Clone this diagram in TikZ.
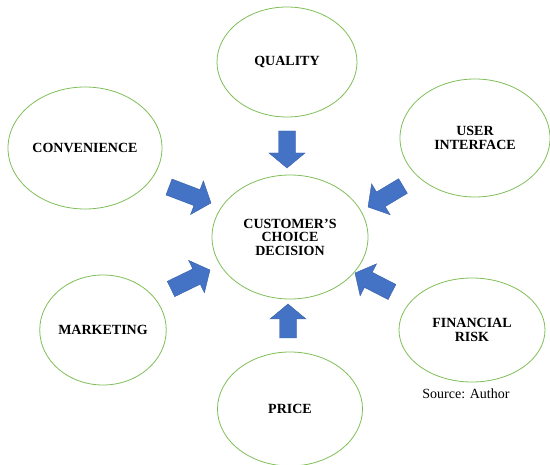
\documentclass[tikz,border=0pt]{standalone}
\usepackage{fontspec}
\setmainfont{Liberation Serif}
\usetikzlibrary{shapes.geometric,calc}

\definecolor{ringgreen}{RGB}{128,190,88}
\definecolor{arrowblue}{RGB}{68,114,196}
\definecolor{arrowedge}{RGB}{55,95,170}

% block arrow from a tail coordinate to a tip coordinate
\newcommand\blockarrow[2]{%
  \coordinate (hb) at ($(#2)!15pt!(#1)$);
  \filldraw[fill=arrowblue, draw=arrowedge, line width=0.4pt, line join=miter]
    ($(#1)!8.5pt!90:(#2)$) -- ($(hb)!8.5pt!90:(#2)$) -- ($(hb)!18pt!90:(#2)$)
    -- (#2) -- ($(hb)!18pt!-90:(#2)$) -- ($(hb)!8.5pt!-90:(#2)$)
    -- ($(#1)!8.5pt!-90:(#2)$) -- cycle;
}

\begin{document}
\begin{tikzpicture}[x=1pt, y=-1pt,
  bubble/.style={ellipse, draw=ringgreen, line width=0.8pt, inner sep=0pt,
    align=center, font=\fontsize{14}{13.5}\selectfont\bfseries}]
\useasboundingbox (0,0) rectangle (550,465);

% factor bubbles
\node[bubble, minimum width=140pt, minimum height=110pt] (quality)   at (287,62)  {QUALITY};
\node[bubble, minimum width=154pt, minimum height=122pt] (conv)      at (85,148)  {CONVENIENCE};
\node[bubble, minimum width=150pt, minimum height=118pt] (ui)        at (475,138) {USER\\INTERFACE};
\node[bubble, minimum width=156pt, minimum height=124pt] (decision)  at (290,237) {CUSTOMER’S\\CHOICE\\DECISION};
\node[bubble, minimum width=126pt, minimum height=110pt] (marketing) at (103,330) {MARKETING};
\node[bubble, minimum width=146pt, minimum height=104pt] (risk)      at (472,330) {FINANCIAL\\RISK};
\node[bubble, minimum width=145pt, minimum height=114pt] (price)     at (290,409) {PRICE};

\node[font=\fontsize{14}{14}\selectfont, inner sep=0pt] (source) at (466,394) {Source: Author};

% arrow ends
\coordinate (qT) at (287,131); \coordinate (qH) at (287,168);
\coordinate (pT) at (288,338); \coordinate (pH) at (288,304);
\coordinate (cT) at (169,187); \coordinate (cH) at (211,203);
\coordinate (uT) at (403,186); \coordinate (uH) at (368,207);
\coordinate (mT) at (171,289); \coordinate (mH) at (210,270);
\coordinate (rT) at (392,292); \coordinate (rH) at (355,273);

\blockarrow{qT}{qH}
\blockarrow{pT}{pH}
\blockarrow{cT}{cH}
\blockarrow{uT}{uH}
\blockarrow{mT}{mH}
\blockarrow{rT}{rH}
\end{tikzpicture}
\end{document}
